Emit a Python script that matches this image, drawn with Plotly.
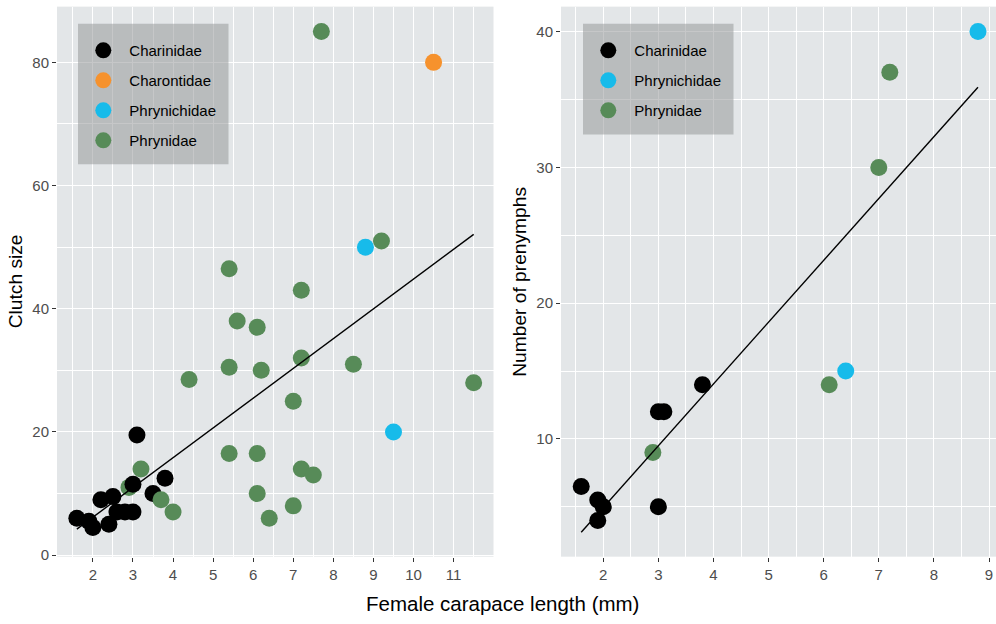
import numpy as np
import plotly.graph_objects as go

# ---------------- data ----------------
# Left panel: clutch size vs female carapace length
left_charinidae_x = [1.6, 1.9, 2.0, 2.2, 2.4, 2.5, 2.6, 2.8, 3.0, 3.0, 3.1, 3.5, 3.8]
left_charinidae_y = [6, 5.5, 4.5, 9, 5, 9.5, 7, 7, 7, 11.5, 19.5, 10, 12.5]
left_charontidae_x = [10.5]
left_charontidae_y = [80]
left_phrynichidae_x = [8.8, 9.5]
left_phrynichidae_y = [50, 20]
left_phrynidae_x = [2.9, 3.2, 3.7, 4.0, 4.4, 5.4, 5.4, 5.4, 5.6, 6.1, 6.1, 6.1, 6.2, 6.4,
                    7.0, 7.0, 7.2, 7.2, 7.2, 7.5, 7.7, 8.5, 9.2, 11.5]
left_phrynidae_y = [11, 14, 9, 7, 28.5, 46.5, 30.5, 16.5, 38, 37, 16.5, 10, 30, 6,
                    25, 8, 43, 32, 14, 13, 85, 31, 51, 28]

# Right panel: number of prenymphs vs female carapace length
right_charinidae_x = [1.6, 1.9, 1.9, 2.0, 3.0, 3.0, 3.1, 3.8]
right_charinidae_y = [6.5, 5.5, 4, 5, 12, 5, 12, 14]
right_phrynichidae_x = [6.4, 8.8]
right_phrynichidae_y = [15, 40]
right_phrynidae_x = [2.9, 6.1, 7.0, 7.2]
right_phrynidae_y = [9, 14, 30, 37]

x_ticks_left = [2, 3, 4, 5, 6, 7, 8, 9, 10, 11]
y_ticks_left = [0, 20, 40, 60, 80]
x_ticks_right = [2, 3, 4, 5, 6, 7, 8, 9]
y_ticks_right = [10, 20, 30, 40]

# ---------------- styling ----------------
COL = {
    "Charinidae": "#000000",
    "Charontidae": "#F6922D",
    "Phrynichidae": "#17BBEA",
    "Phrynidae": "#578B58",
}
FONT = "Liberation Sans, Arial, Helvetica, sans-serif"
W, H = 996, 624
MS = 17


def px_x(p):
    return p / W


def px_y(p):
    return 1 - p / H


fig = go.Figure()


def pts(x, y, name, xa, ya, legend, showlegend=True, rank=None):
    kw = {}
    if rank is not None:
        kw["legendrank"] = rank
    fig.add_trace(go.Scatter(
        x=x, y=y, mode="markers", name=name,
        marker=dict(color=COL[name], size=MS, line=dict(width=0)),
        xaxis=xa, yaxis=ya, legend=legend, showlegend=showlegend,
        legendgroup=legend + name, hoverinfo="x+y+name", **kw))


def fit_line(xs, ys, xa, ya):
    xs = np.asarray(xs, float)
    ys = np.asarray(ys, float)
    b, a = np.polyfit(xs, ys, 1)
    xl = np.array([xs.min(), xs.max()])
    fig.add_trace(go.Scatter(
        x=xl, y=a + b * xl, mode="lines", line=dict(color="black", width=1.4),
        xaxis=xa, yaxis=ya, showlegend=False, hoverinfo="skip"))


# left panel (draw order mimics overlap in reference)
pts(left_phrynidae_x[:1], left_phrynidae_y[:1], "Phrynidae", "x", "y", "legend", showlegend=False)
pts(left_charinidae_x, left_charinidae_y, "Charinidae", "x", "y", "legend", rank=1)
pts(left_charontidae_x, left_charontidae_y, "Charontidae", "x", "y", "legend", rank=2)
pts(left_phrynichidae_x, left_phrynichidae_y, "Phrynichidae", "x", "y", "legend", rank=3)
pts(left_phrynidae_x[1:], left_phrynidae_y[1:], "Phrynidae", "x", "y", "legend", rank=4)
fit_line(left_charinidae_x + left_charontidae_x + left_phrynichidae_x + left_phrynidae_x,
         left_charinidae_y + left_charontidae_y + left_phrynichidae_y + left_phrynidae_y,
         "x", "y")

# right panel
pts(right_charinidae_x, right_charinidae_y, "Charinidae", "x2", "y2", "legend2", rank=1)
pts(right_phrynidae_x, right_phrynidae_y, "Phrynidae", "x2", "y2", "legend2", rank=3)
pts(right_phrynichidae_x, right_phrynichidae_y, "Phrynichidae", "x2", "y2", "legend2", rank=2)
fit_line(right_charinidae_x + right_phrynichidae_x + right_phrynidae_x,
         right_charinidae_y + right_phrynichidae_y + right_phrynidae_y,
         "x2", "y2")

# ---------------- axes ----------------
PANEL_BG = "#E3E6E8"
ydom = [px_y(563), px_y(6.7)]

common = dict(
    showgrid=True, gridcolor="white", gridwidth=1.1,
    zeroline=False, showline=False,
    ticks="outside", ticklen=4, tickwidth=1.1, tickcolor="#333333",
    tickfont=dict(family=FONT, size=15, color="#4D4D4D"),
)

fig.update_layout(
    width=W, height=H,
    margin=dict(l=0, r=0, t=0, b=0),
    paper_bgcolor="white",
    plot_bgcolor=PANEL_BG,
    font=dict(family=FONT, color="black"),
    xaxis=dict(domain=[px_x(57), px_x(493.5)], range=[1.105, 11.995],
               tickvals=x_ticks_left, anchor="y",
               minor=dict(dtick=0.5, tick0=0, showgrid=True, gridcolor="white", gridwidth=0.55),
               **common),
    yaxis=dict(domain=ydom, range=[-0.25, 89.05], tickvals=y_ticks_left, anchor="x",
               minor=dict(dtick=10, tick0=0, showgrid=True, gridcolor="white", gridwidth=0.55),
               **common),
    xaxis2=dict(domain=[px_x(561), 1.0], range=[1.233, 9.127],
                tickvals=x_ticks_right, anchor="y2",
                minor=dict(dtick=0.5, tick0=0, showgrid=True, gridcolor="white", gridwidth=0.55),
                **common),
    yaxis2=dict(domain=ydom, range=[1.33, 41.84], tickvals=y_ticks_right, anchor="x2",
                minor=dict(dtick=5, tick0=0, showgrid=True, gridcolor="white", gridwidth=0.55),
                **common),
    legend=dict(x=px_x(77.3), y=px_y(34.5), xanchor="left", yanchor="top",
                bgcolor="rgba(0,0,0,0)", borderwidth=0,
                font=dict(family=FONT, size=15, color="black"),
                itemwidth=42, tracegroupgap=7.5, traceorder="grouped"),
    legend2=dict(x=px_x(582.3), y=px_y(34.5), xanchor="left", yanchor="top",
                 bgcolor="rgba(0,0,0,0)", borderwidth=0,
                 font=dict(family=FONT, size=15, color="black"),
                 itemwidth=42, tracegroupgap=7.5, traceorder="grouped"),
    shapes=[
        dict(type="rect", xref="paper", yref="paper", layer="above",
             x0=px_x(78), x1=px_x(228.5), y0=px_y(166), y1=px_y(24),
             fillcolor="rgba(150,152,154,0.54)", line=dict(width=0)),
        dict(type="rect", xref="paper", yref="paper", layer="above",
             x0=px_x(583), x1=px_x(733.5), y0=px_y(136), y1=px_y(24),
             fillcolor="rgba(150,152,154,0.54)", line=dict(width=0)),
    ],
    annotations=[
        dict(text="Female carapace length (mm)", xref="paper", yref="paper",
             x=px_x(502), y=px_y(610), showarrow=False, xanchor="center", yanchor="middle",
             font=dict(family=FONT, size=20.5, color="black")),
        dict(text="Clutch size", xref="paper", yref="paper", textangle=-90,
             x=px_x(15.5), y=px_y(285), showarrow=False, xanchor="center", yanchor="middle",
             font=dict(family=FONT, size=19.2, color="black")),
        dict(text="Number of prenymphs", xref="paper", yref="paper", textangle=-90,
             x=px_x(520), y=px_y(285), showarrow=False, xanchor="center", yanchor="middle",
             font=dict(family=FONT, size=19.2, color="black")),
    ],
)

fig.write_html("out.html")
